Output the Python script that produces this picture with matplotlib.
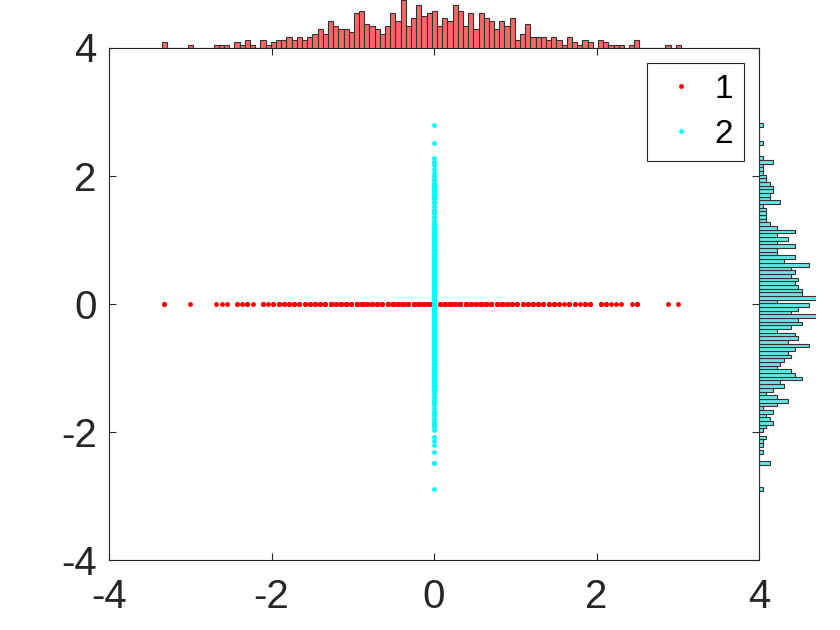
import numpy as np
import matplotlib
matplotlib.use('Agg')
import matplotlib.pyplot as plt

plt.rcParams['font.family'] = ['Liberation Sans', 'DejaVu Sans']
plt.rcParams['axes.unicode_minus'] = False

# histogram counts, 100 bins each
red_range = (-3.35, 3.04)
red_counts = [2, 0, 0, 0, 0, 1, 0, 0, 0, 0, 1, 1, 1, 0, 2, 1, 3, 1, 0, 3,
              1, 2, 3, 3, 4, 3, 4, 3, 4, 5, 7, 5, 10, 8, 7, 7, 6, 13, 14, 9,
              8, 7, 5, 8, 13, 10, 18, 8, 11, 16, 12, 13, 14, 8, 11, 10, 16, 14, 8, 13,
              7, 13, 11, 10, 7, 10, 8, 11, 3, 5, 9, 4, 4, 4, 3, 4, 3, 1, 4, 2,
              1, 3, 2, 0, 3, 2, 1, 1, 1, 0, 1, 3, 0, 0, 0, 0, 0, 1, 0, 1]

cyan_range = (-2.92, 2.82)
cyan_counts = [1, 0, 0, 0, 0, 0, 0, 3, 0, 0, 1, 0, 1, 1, 2, 0, 1, 2, 4, 3,
               2, 4, 1, 5, 8, 5, 2, 4, 7, 6, 12, 10, 9, 5, 6, 7, 9, 8, 10, 14,
               8, 11, 10, 5, 9, 12, 11, 16, 9, 11, 14, 5, 16, 12, 12, 11, 10, 11, 9, 10,
               9, 14, 7, 10, 5, 5, 10, 5, 8, 5, 10, 5, 3, 2, 2, 2, 2, 1, 6, 3,
               3, 4, 4, 3, 2, 2, 1, 1, 1, 4, 1, 0, 0, 0, 1, 0, 0, 0, 0, 1]

labels = ['1', '2']
ticks = [-4, -2, 0, 2, 4]

red_edges = np.linspace(red_range[0], red_range[1], len(red_counts) + 1)
red_centers = (red_edges[:-1] + red_edges[1:]) / 2
cyan_edges = np.linspace(cyan_range[0], cyan_range[1], len(cyan_counts) + 1)
cyan_centers = (cyan_edges[:-1] + cyan_edges[1:]) / 2

# group 1 lies on y=0, group 2 on x=0
x1 = np.repeat(red_centers, red_counts)
y2 = np.repeat(cyan_centers, cyan_counts)

W, H = 840, 630
def rect(l, t, r, b):
    return [l / W, 1 - b / H, (r - l) / W, (b - t) / H]

fig = plt.figure(figsize=(8.4, 6.3), dpi=100)
ax = fig.add_axes(rect(109, 47.5, 759, 560))
axt = fig.add_axes(rect(109, 0, 759, 47.5))
axr = fig.add_axes(rect(759, 47.5, 816, 560))

ax.plot(x1, np.zeros_like(x1), 'o', color='red', ms=3.5, mew=0, label=labels[0])
ax.plot(np.zeros_like(y2), y2, 'o', color='cyan', ms=3.5, mew=0, label=labels[1])
ax.set_xlim(-4, 4)
ax.set_ylim(-4, 4)
ax.set_xticks(ticks)
ax.set_yticks(ticks)
ax.tick_params(direction='in', length=5, width=0.8, top=True, right=True,
               labelsize=29, labelcolor='#262626', color='#262626')
ax.tick_params(axis='x', pad=13)
ax.tick_params(axis='y', pad=9)
for s in ax.spines.values():
    s.set_linewidth(0.8)
    s.set_color('#262626')

leg = ax.legend(loc='upper right', bbox_to_anchor=(744 / W, 1 - 63 / H),
                bbox_transform=fig.transFigure, borderaxespad=0, fontsize=24,
                fancybox=False, edgecolor='#262626', framealpha=1,
                handlelength=1.4, handletextpad=0.3, borderpad=0.33,
                labelspacing=0.42, markerscale=1.0)
leg.get_frame().set_linewidth(0.8)

axt.bar(red_centers, red_counts, width=red_edges[1] - red_edges[0],
        color='#ff6666', edgecolor='#333333', linewidth=0.8)
axt.set_xlim(-4, 4)
axt.set_ylim(0, 18)
axt.axis('off')

axr.barh(cyan_centers, cyan_counts, height=cyan_edges[1] - cyan_edges[0],
         color='#66e6e6', edgecolor='#333333', linewidth=0.8)
axr.set_xlim(0, 16)
axr.set_ylim(-4, 4)
axr.axis('off')

fig.savefig('out.png', dpi=100)
